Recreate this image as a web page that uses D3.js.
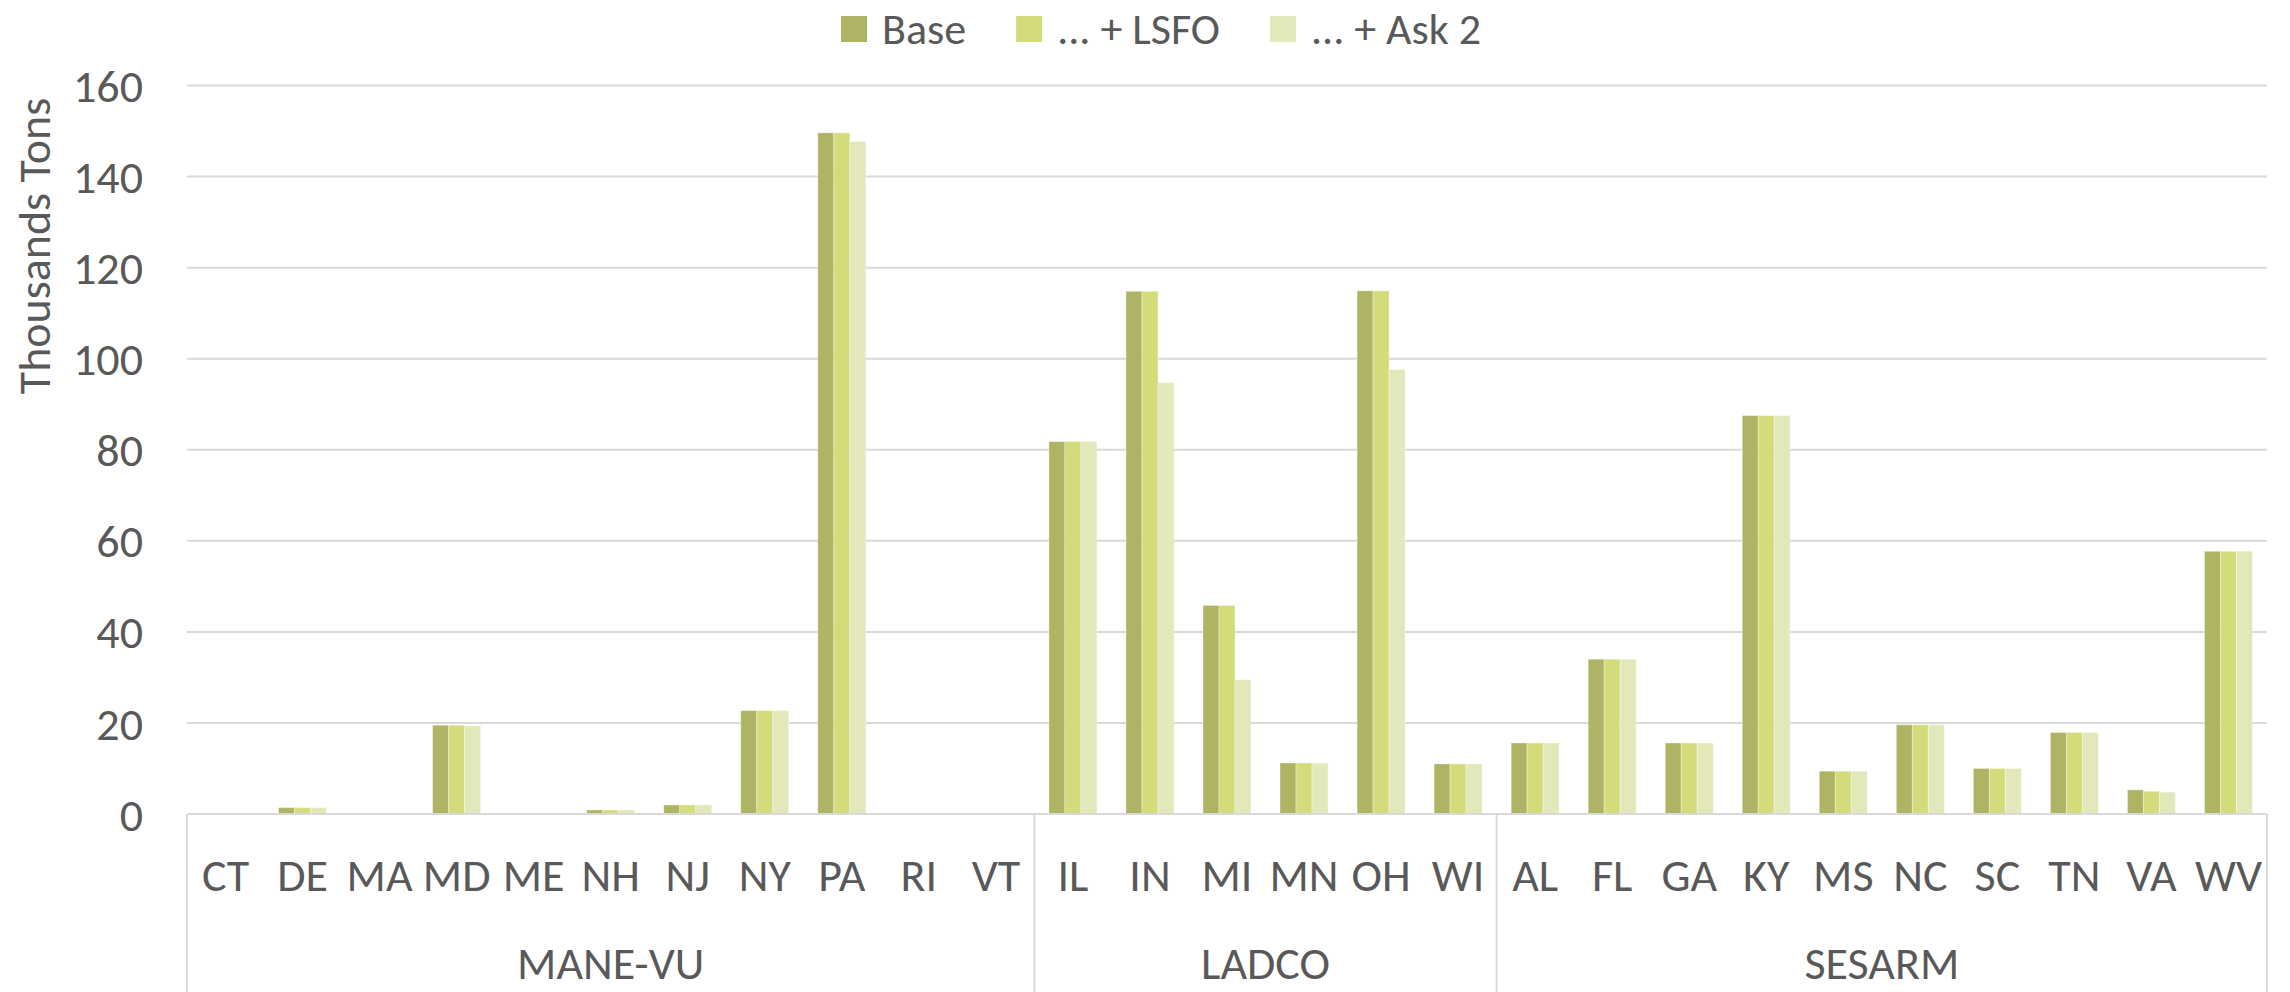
<!DOCTYPE html>
<html>
<head>
<meta charset="utf-8">
<script src="https://cdn.jsdelivr.net/npm/d3@7"></script>
<style>
  body { margin: 0; background: #fff; }
  text { font-family: Carlito, Calibri, Lato, sans-serif; fill: #595959; }
</style>
</head>
<body>
<div id="chart"></div>
<script>
// data
var states = ["CT", "DE", "MA", "MD", "ME", "NH", "NJ", "NY", "PA", "RI", "VT",
    "IL", "IN", "MI", "MN", "OH", "WI",
    "AL", "FL", "GA", "KY", "MS", "NC", "SC", "TN", "VA", "WV"];
var groups = ["MANE-VU", "LADCO", "SESARM"];
var groupSizes = [11, 6, 10];
var seriesNames = ["Base", "... + LSFO", "... + Ask 2"];
var base = [0, 1.4, 0, 19.5, 0, 0.9, 2.0, 22.7, 149.6, 0, 0,
    81.8, 114.8, 45.8, 11.2, 114.9, 11.0,
    15.6, 34.0, 15.6, 87.5, 9.4, 19.6, 10.0, 17.9, 5.3, 57.7];
var lsfo = [0, 1.4, 0, 19.5, 0, 0.9, 2.0, 22.7, 149.6, 0, 0,
    81.8, 114.8, 45.8, 11.2, 114.9, 11.0,
    15.6, 34.0, 15.6, 87.5, 9.4, 19.6, 10.0, 17.9, 5.0, 57.7];
var ask2 = [0, 1.4, 0, 19.4, 0, 0.9, 2.0, 22.7, 147.7, 0, 0,
    81.8, 94.7, 29.5, 11.2, 97.6, 11.0,
    15.6, 34.0, 15.6, 87.5, 9.4, 19.6, 10.0, 17.9, 4.8, 57.7];
var yTicks = [0, 20, 40, 60, 80, 100, 120, 140, 160];

var width = 2290, height = 992;
var left = 187, right = 2267, baseY = 814, topY = 85.5;
var colors = ["#aeb463", "#d4db7b", "#e2e8b9"];
var fontSize = 46;

var svg = d3.select("#chart")
    .append("svg")
    .attr("width", width)
    .attr("height", height);

var x0 = d3.scaleBand()
    .domain(states)
    .range([left, right])
    .paddingInner(0.377)
    .paddingOuter(0.1885);

var x1 = d3.scaleBand()
    .domain(seriesNames)
    .range([0, x0.bandwidth()]);

var y = d3.scaleLinear()
    .domain([0, 160])
    .range([baseY, topY]);

var color = d3.scaleOrdinal()
    .domain(seriesNames)
    .range(colors);

// gridlines
svg.append("g")
    .selectAll("line")
    .data(yTicks.slice(1))
    .enter()
    .append("line")
    .attr("x1", left)
    .attr("x2", right)
    .attr("y1", function (d) { return y(d); })
    .attr("y2", function (d) { return y(d); })
    .style("stroke", "#d9d9d9")
    .style("stroke-width", 2);

// y axis labels
var yAxis = svg.append("g")
    .attr("transform", "translate(" + (left - 44) + ",0)")
    .call(d3.axisLeft(y).tickValues(yTicks).tickSize(0).tickPadding(0));
yAxis.select(".domain").remove();
yAxis.selectAll("text")
    .style("font-size", fontSize + "px")
    .style("font-family", "Carlito, Calibri, Lato, sans-serif")
    .attr("fill", "#595959")
    .attr("dy", "0.35em");

// y axis title
svg.append("text")
    .attr("transform", "translate(50,246) rotate(-90)")
    .attr("text-anchor", "middle")
    .style("font-size", fontSize + "px")
    .text("Thousands Tons");

// bars
var rows = states.map(function (s, i) {
    return { state: s, values: [base[i], lsfo[i], ask2[i]] };
});

var stateG = svg.append("g")
    .selectAll("g")
    .data(rows)
    .enter()
    .append("g")
    .attr("transform", function (d) { return "translate(" + x0(d.state) + ",0)"; });

stateG.selectAll("rect")
    .data(function (d) {
        return d.values.map(function (v, k) { return { key: seriesNames[k], value: v }; });
    })
    .enter()
    .append("rect")
    .filter(function (d) { return d.value > 0; })
    .attr("x", function (d) { return x1(d.key); })
    .attr("y", function (d) { return y(d.value); })
    .attr("width", x1.bandwidth())
    .attr("height", function (d) { return baseY - y(d.value); })
    .style("fill", function (d) { return color(d.key); })
    .style("stroke", "rgba(255,255,255,0.35)")
    .style("stroke-width", 1);

// category axis line
svg.append("line")
    .attr("x1", left)
    .attr("x2", right)
    .attr("y1", baseY)
    .attr("y2", baseY)
    .style("stroke", "#d9d9d9")
    .style("stroke-width", 2);

// state labels
svg.append("g")
    .selectAll("text")
    .data(states)
    .enter()
    .append("text")
    .attr("x", function (d) { return x0(d) + x0.bandwidth() / 2; })
    .attr("y", 891)
    .attr("text-anchor", "middle")
    .style("font-size", fontSize + "px")
    .text(function (d) { return d; });

// group separators and labels
var bounds = [];
var start = 0;
groupSizes.forEach(function (n, i) {
    bounds.push({ name: groups[i], first: states[start], last: states[start + n - 1] });
    start += n;
});
var step = x0.step();
var edgeX = function (st) { return x0(st) - x0.paddingOuter() * step; };

var sepX = bounds.map(function (b) { return edgeX(b.first); });
sepX.push(right);
svg.append("g")
    .selectAll("line")
    .data(sepX)
    .enter()
    .append("line")
    .attr("x1", function (d) { return d; })
    .attr("x2", function (d) { return d; })
    .attr("y1", baseY)
    .attr("y2", height)
    .style("stroke", "#d9d9d9")
    .style("stroke-width", 2);

svg.append("g")
    .selectAll("text")
    .data(bounds)
    .enter()
    .append("text")
    .attr("x", function (d) { return (edgeX(d.first) + edgeX(d.last) + step) / 2; })
    .attr("y", 979)
    .attr("text-anchor", "middle")
    .style("font-size", fontSize + "px")
    .text(function (d) { return d.name; });

// legend
var legend = svg.append("g");
var lx = 841;
seriesNames.forEach(function (name) {
    legend.append("rect")
        .attr("x", lx)
        .attr("y", 16)
        .attr("width", 26)
        .attr("height", 26)
        .style("fill", color(name));
    var t = legend.append("text")
        .attr("x", lx + 41)
        .attr("y", 44)
        .style("font-size", "44px")
        .text(name);
    lx += 41 + t.node().getComputedTextLength() + 50;
});
</script>
</body>
</html>
